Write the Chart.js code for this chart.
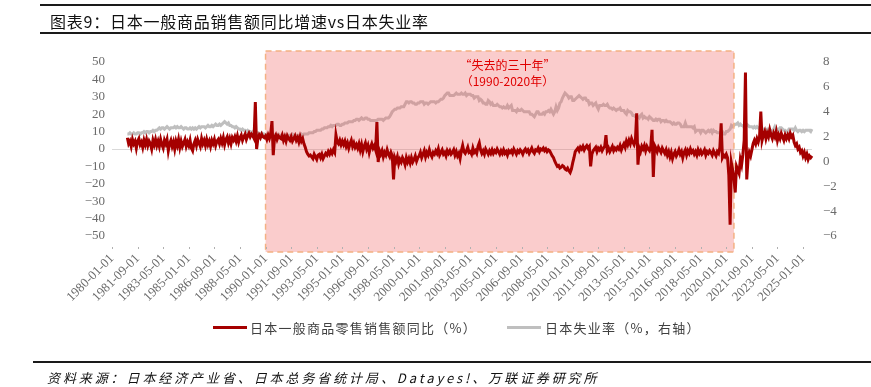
<!DOCTYPE html>
<html>
<head>
<meta charset="utf-8">
<script src="https://cdn.jsdelivr.net/npm/chart.js@4.4.1/dist/chart.umd.min.js"></script>
<style>
  html, body { margin:0; padding:0; background:#fff; }
  #wrap { position:relative; width:871px; height:387px; overflow:hidden; }
  canvas { position:absolute; left:0; top:0; }
  .rule { position:absolute; background:#1a1a1a; }
  #title { position:absolute; left:50px; top:9px; font:16px "Noto Sans CJK SC", sans-serif; color:#111; white-space:nowrap; letter-spacing:0.75px; }
  .lg { position:absolute; top:318px; font:13px "Noto Sans CJK SC", sans-serif; color:#404040; white-space:nowrap; letter-spacing:1.25px; }
  .lgline { position:absolute; top:326px; height:3px; width:34px; }
  #src { position:absolute; left:47px; top:368px; font:italic 13px "Noto Sans CJK SC", sans-serif; color:#111; white-space:nowrap; letter-spacing:2.9px; }
</style>
</head>
<body>
<div id="wrap">
  <canvas id="c" width="871" height="387"></canvas>
  <div class="rule" style="left:40px; top:4px; width:831px; height:2px;"></div>
  <div id="title">图表9：日本一般商品销售额同比增速vs日本失业率</div>
  <div class="rule" style="left:40px; top:32px; width:831px; height:2px;"></div>
  <div class="lgline" style="left:213px; background:#A50000;"></div>
  <div class="lg" style="left:250px;">日本一般商品零售销售额同比（%）</div>
  <div class="lgline" style="left:507px; background:#BFBFBF;"></div>
  <div class="lg" style="left:545px;">日本失业率（%，右轴）</div>
  <div class="rule" style="left:33px; top:361px; width:838px; height:2px;"></div>
  <div id="src">资料来源：日本经济产业省、日本总务省统计局、Datayes!、万联证券研究所</div>
</div>
<script>
// ---- categories: monthly, 1980-01 .. 2025-08 ----
const startYear = 1980;
const monthCount = 548;
const categories = [];
for (let i = 0; i < monthCount; i++) {
  const y = startYear + Math.floor(i / 12), m = (i % 12) + 1;
  categories.push(y + '-' + String(m).padStart(2, '0') + '-01');
}

// ---- tick labels shown on the x axis ----
const xTickLabels = ['1980-01-01','1981-09-01','1983-05-01','1985-01-01','1986-09-01','1988-05-01',
  '1990-01-01','1991-09-01','1993-05-01','1995-01-01','1996-09-01','1998-05-01','2000-01-01',
  '2001-09-01','2003-05-01','2005-01-01','2006-09-01','2008-05-01','2010-01-01','2011-09-01',
  '2013-05-01','2015-01-01','2016-09-01','2018-05-01','2020-01-01','2021-09-01','2023-05-01','2025-01-01'];

// ---- series 1: 日本一般商品零售销售额同比 (%), 1980 has no data ----
const retailYoY1980 = [null,null,null,null,null,null,null,null,null,null,null,null];
const retailYoY = [
  // 1981
  6.5,3.0,4.5,1.5,5.5,3.0,4.5,0.5,4.5,6.0,2.5,4.0,
  // 1982
  1.0,5.0,2.5,5.5,2.0,4.5,3.0,0.0,5.0,2.5,5.5,2.0,
  // 1983
  4.5,1.5,5.5,2.5,0.5,5.0,3.0,5.5,-1.0,3.0,5.0,1.5,
  // 1984
  4.0,0.0,4.5,2.0,5.5,1.0,4.5,1.5,3.5,5.5,1.5,4.0,
  // 1985
  2.0,5.0,0.5,-1.0,3.0,5.0,2.0,5.5,3.5,1.5,6.0,3.0,
  // 1986
  5.0,2.0,5.5,2.5,4.5,1.5,5.0,3.0,5.5,2.0,4.5,5.5,
  // 1987
  3.0,6.0,3.5,6.5,2.5,5.5,7.0,3.5,6.0,3.0,6.5,5.0,
  // 1988
  7.0,4.5,7.5,4.0,6.5,8.0,5.0,7.0,8.5,5.5,7.5,9.0,
  // 1989
  7.0,8.5,7.5,6.0,27.0,0.0,6.0,8.0,6.5,8.5,7.0,6.5,
  // 1990
  7.5,5.5,8.0,6.0,8.5,16.0,-3.5,6.5,8.0,5.5,7.5,6.5,
  // 1991
  6.0,8.0,5.0,7.0,4.5,7.5,6.0,5.0,7.0,4.5,6.0,7.5,
  // 1992
  5.0,6.5,4.0,7.0,4.5,6.0,3.0,1.0,-1.5,-3.0,-4.0,-3.5,
  // 1993
  -4.5,-5.5,-3.0,-4.5,-6.0,-3.5,-3.0,-5.0,-3.0,-5.5,-4.0,-2.5,
  // 1994
  -3.5,-1.5,-3.0,-1.0,-2.5,-0.5,-2.0,8.0,4.0,3.0,5.0,2.5,
  // 1995
  4.5,2.5,4.5,1.5,3.5,0.5,3.0,5.0,1.5,3.5,1.0,2.5,
  // 1996
  0.5,3.0,-0.5,2.5,-1.5,1.5,3.5,0.0,2.0,-2.0,1.0,3.0,
  // 1997
  0.5,2.0,-0.5,15.5,-7.5,-1.0,-3.0,-1.0,-4.5,-2.0,-3.5,-0.5,
  // 1998
  -3.0,-4.5,-2.0,-4.0,-17.5,-5.0,-7.0,-4.5,-8.5,-6.0,-7.5,-5.0,
  // 1999
  -6.5,-9.0,-5.0,-7.5,-5.5,-8.0,-5.0,-7.5,-6.0,-4.0,-7.0,-5.0,
  // 2000
  -4.0,-2.0,-5.0,-3.0,-1.0,-4.5,-2.0,-3.5,-0.5,-3.0,-4.5,-2.0,
  // 2001
  -3.0,-1.0,-2.5,0.0,-3.5,-2.0,-0.5,-3.0,-2.0,-4.0,-1.0,-2.5,
  // 2002
  -1.0,-3.0,-2.0,-0.5,-3.5,-1.5,-4.0,-2.5,-5.5,-1.0,2.0,-1.5,
  // 2003
  -2.5,-1.0,1.0,-2.0,-1.5,-3.0,0.5,-2.0,-1.0,-2.5,1.5,3.5,
  // 2004
  -0.5,-2.5,-1.0,-3.0,0.0,-1.5,-3.0,-1.0,-2.5,-0.5,-2.5,-1.0,
  // 2005
  -2.0,0.0,-1.5,-3.0,-1.0,-2.5,-0.5,-2.5,-1.5,-3.5,-1.0,-2.0,
  // 2006
  -1.0,-2.5,0.0,-1.5,-3.0,-1.0,-2.0,-0.5,-1.5,-3.0,-1.0,0.0,
  // 2007
  -1.5,-0.5,-2.5,-1.0,0.5,-1.5,-2.5,-0.5,-1.0,0.5,-1.5,0.0,
  // 2008
  -0.5,0.5,-1.0,0.0,-1.5,-0.5,-1.0,-2.5,-4.0,-5.0,-7.0,-8.5,
  // 2009
  -10.0,-9.5,-11.0,-10.5,-9.5,-10.0,-11.5,-12.0,-11.0,-12.5,-13.5,-11.5,
  // 2010
  -8.0,-5.0,-1.5,-0.5,0.5,-1.0,1.0,0.0,1.5,-0.5,1.0,2.0,
  // 2011
  0.5,1.5,-10.0,-3.0,-1.0,0.0,1.0,-1.5,0.5,-0.5,1.0,-1.0,
  // 2012
  0.5,1.5,8.0,-1.0,0.5,-1.5,0.0,1.5,-1.0,0.5,-0.5,1.0,
  // 2013
  0.0,2.0,-0.5,1.5,3.0,1.0,4.5,2.5,5.0,3.0,6.0,4.0,
  // 2014
  2.5,5.0,20.5,-9.0,0.5,-1.5,1.5,0.0,2.0,-1.0,1.5,0.0,
  // 2015
  -1.0,1.5,11.0,-16.0,2.0,0.5,-1.5,1.0,-0.5,-2.0,0.5,-1.0,
  // 2016
  -2.5,-0.5,-3.5,-1.5,-4.5,-2.0,-5.5,-3.0,-1.5,-4.0,-2.5,-0.5,
  // 2017
  -3.0,-1.5,-5.0,-2.0,-0.5,-3.5,-1.0,-2.5,0.0,-2.0,-1.0,-3.0,
  // 2018
  -1.5,-3.5,-0.5,-2.5,-1.0,-3.0,-2.0,-0.5,-3.5,-1.5,-2.5,-1.0,
  // 2019
  -2.0,-3.5,-1.0,-2.5,-4.0,-1.5,-2.5,1.0,14.8,-5.0,-3.5,-4.5,
  // 2020
  -3.0,-5.0,-15.0,-43.5,-8.0,-12.0,-17.0,-25.0,-10.0,-12.0,-14.0,-6.0,
  // 2021
  -9.0,-3.0,5.0,44.0,-17.5,-6.0,-2.0,-4.0,-0.5,3.0,5.0,3.0,
  // 2022
  6.0,4.0,7.0,21.5,5.0,8.0,10.0,6.0,9.0,7.0,11.0,8.0,
  // 2023
  6.0,9.0,7.0,10.0,5.0,8.0,6.0,9.0,7.0,5.0,8.0,6.0,
  // 2024
  8.0,6.0,9.0,7.0,8.0,4.0,2.0,3.0,0.0,1.0,-2.0,-1.0,
  // 2025
  -4.0,-2.0,-5.0,-3.0,-6.0,-4.0,-5.0,-4.0
];

// ---- series 2: 日本失业率 (%, right axis) ----
const unemployment1980 = [null,null,null,null,null,null,null,null,null,null,null,null];
const unemployment = [
  2.2,2.2,2.3,2.2,2.2,2.3,2.2,2.2,2.3,2.3,2.2,2.3, // 1981
  2.3,2.4,2.3,2.4,2.4,2.3,2.4,2.4,2.5,2.4,2.5,2.5, // 1982
  2.6,2.7,2.6,2.7,2.7,2.6,2.7,2.8,2.7,2.6,2.7,2.7, // 1983
  2.7,2.8,2.7,2.8,2.7,2.7,2.8,2.7,2.6,2.7,2.7,2.6, // 1984
  2.6,2.7,2.6,2.7,2.6,2.7,2.6,2.7,2.8,2.7,2.8,2.8, // 1985
  2.8,2.7,2.8,2.9,2.8,2.8,2.9,2.8,2.9,3.0,2.9,2.9, // 1986
  3.0,2.9,3.0,3.1,3.2,3.1,3.0,3.1,2.9,2.9,2.8,2.8, // 1987
  2.7,2.8,2.7,2.6,2.6,2.5,2.6,2.5,2.5,2.4,2.5,2.4, // 1988
  2.4,2.3,2.4,2.3,2.2,2.3,2.3,2.2,2.2,2.3,2.2,2.2, // 1989
  2.1,2.2,2.1,2.2,2.1,2.1,2.2,2.1,2.1,2.1,2.2,2.1, // 1990
  2.1,2.1,2.0,2.1,2.1,2.1,2.1,2.1,2.1,2.2,2.1,2.1, // 1991
  2.1,2.1,2.1,2.1,2.2,2.1,2.2,2.2,2.2,2.2,2.3,2.3, // 1992
  2.3,2.3,2.4,2.4,2.5,2.5,2.5,2.5,2.6,2.6,2.7,2.7, // 1993
  2.7,2.8,2.8,2.9,2.8,2.9,2.9,2.9,3.0,3.0,2.9,2.9, // 1994
  3.0,3.0,3.1,3.1,3.1,3.2,3.2,3.2,3.2,3.3,3.3,3.4, // 1995
  3.4,3.3,3.4,3.5,3.4,3.4,3.5,3.5,3.4,3.4,3.3,3.3, // 1996
  3.3,3.3,3.3,3.3,3.4,3.4,3.4,3.4,3.3,3.4,3.5,3.5, // 1997
  3.5,3.6,3.8,4.0,4.1,4.2,4.2,4.3,4.3,4.3,4.4,4.4, // 1998
  4.4,4.6,4.8,4.8,4.7,4.8,4.8,4.7,4.7,4.6,4.6,4.7, // 1999
  4.7,4.8,4.8,4.8,4.6,4.7,4.7,4.6,4.7,4.8,4.8,4.8, // 2000
  4.8,4.7,4.8,4.8,4.9,5.0,5.0,5.1,5.3,5.4,5.5,5.5, // 2001
  5.3,5.3,5.3,5.3,5.4,5.5,5.4,5.4,5.4,5.5,5.4,5.4, // 2002
  5.5,5.3,5.4,5.4,5.4,5.3,5.3,5.1,5.2,5.2,5.2,4.9, // 2003
  5.0,4.9,4.7,4.7,4.6,4.6,4.9,4.8,4.6,4.7,4.5,4.5, // 2004
  4.5,4.6,4.5,4.4,4.4,4.3,4.4,4.3,4.3,4.5,4.3,4.4, // 2005
  4.5,4.1,4.1,4.1,4.0,4.2,4.1,4.1,4.2,4.1,4.0,4.0, // 2006
  4.0,4.0,4.0,3.8,3.8,3.7,3.6,3.8,4.0,4.0,3.8,3.8, // 2007
  3.8,3.9,3.8,4.0,4.0,4.1,4.0,4.2,4.0,3.8,4.0,4.4, // 2008
  4.1,4.3,4.7,4.8,5.1,5.3,5.5,5.4,5.3,5.1,5.2,5.2, // 2009
  4.9,4.9,5.0,5.1,5.2,5.3,5.2,5.1,5.0,5.1,5.1,4.9, // 2010
  4.9,4.6,4.7,4.7,4.5,4.6,4.7,4.4,4.2,4.5,4.5,4.5, // 2011
  4.6,4.5,4.5,4.6,4.4,4.3,4.3,4.2,4.3,4.2,4.1,4.2, // 2012
  4.2,4.3,4.1,4.1,4.1,3.9,3.8,4.1,4.0,4.0,3.9,3.7, // 2013
  3.7,3.6,3.6,3.6,3.5,3.7,3.8,3.5,3.6,3.5,3.5,3.4, // 2014
  3.6,3.5,3.4,3.3,3.3,3.4,3.3,3.4,3.4,3.2,3.3,3.3, // 2015
  3.2,3.3,3.2,3.2,3.2,3.1,3.0,3.1,3.0,3.0,3.1,3.1, // 2016
  3.0,2.8,2.8,2.8,3.1,2.8,2.8,2.8,2.8,2.8,2.7,2.8, // 2017
  2.4,2.5,2.5,2.5,2.3,2.5,2.5,2.4,2.3,2.4,2.5,2.4, // 2018
  2.5,2.3,2.5,2.4,2.4,2.3,2.3,2.3,2.4,2.4,2.2,2.2, // 2019
  2.4,2.4,2.5,2.6,2.9,2.8,2.9,3.0,3.0,3.1,2.9,3.0, // 2020
  2.9,2.9,2.7,2.8,3.0,2.9,2.8,2.8,2.8,2.7,2.8,2.7, // 2021
  2.8,2.7,2.6,2.5,2.6,2.6,2.6,2.5,2.6,2.6,2.5,2.5, // 2022
  2.4,2.6,2.8,2.6,2.6,2.5,2.7,2.7,2.6,2.5,2.5,2.4, // 2023
  2.4,2.6,2.6,2.6,2.6,2.5,2.7,2.5,2.4,2.5,2.5,2.4, // 2024
  2.5,2.4,2.5,2.5,2.5,2.5,2.4,2.6                  // 2025
];

// ---- shaded period: "失去的三十年" ----
const lostDecadesStart = '1990-01-01';
const lostDecadesEnd = '2020-07-01';
const annotationLines = ['“失去的三十年”', '（1990-2020年）'];

const tickFont = { family: '"Liberation Serif", "Times New Roman", serif', size: 13 };
const tickColor = '#6b6b6b';
const minusFmt = v => (v < 0 ? '\u2212' + Math.abs(v) : String(v));

const shadePlugin = {
  id: 'shade',
  afterDatasetDraw(chart, args) {
    if (args.index !== 1) return;
    const x = chart.scales.x, y = chart.scales.y, ctx = chart.ctx;
    const x0 = x.getPixelForValue(categories.indexOf(lostDecadesStart));
    const x1 = x.getPixelForValue(categories.indexOf(lostDecadesEnd));
    const y0 = y.getPixelForValue(56.3), y1 = y.getPixelForValue(-59.2);
    ctx.save();
    ctx.fillStyle = 'rgba(240,100,100,0.33)';
    ctx.fillRect(x0, y0, x1 - x0, y1 - y0);
    ctx.setLineDash([6, 4]);
    ctx.strokeStyle = '#F4B183';
    ctx.lineWidth = 1.5;
    ctx.strokeRect(x0, y0, x1 - x0, y1 - y0);
    ctx.setLineDash([]);
    ctx.fillStyle = '#E00000';
    ctx.font = '12px "Noto Sans CJK SC", sans-serif';
    ctx.textAlign = 'center';
    ctx.textBaseline = 'middle';
    const cx = x.getPixelForValue(309);
    ctx.fillText(annotationLines[0], cx, y.getPixelForValue(48.3));
    ctx.fillText(annotationLines[1], cx, y.getPixelForValue(38.6));
    ctx.restore();
  },
  afterDraw(chart) {
    const x = chart.scales.x, ctx = chart.ctx;
    ctx.save();
    ctx.fillStyle = '#b0b0b0';
    x.ticks.forEach((t, i) => {
      const px = Math.round(x.getPixelForTick(i));
      ctx.fillRect(px, 247, 1, 2);
    });
    ctx.restore();
  }
};

new Chart(document.getElementById('c'), {
  type: 'line',
  data: {
    labels: categories,
    datasets: [
      { label: '日本一般商品零售销售额同比（%）', data: retailYoY1980.concat(retailYoY), yAxisID: 'y',
        borderColor: '#A50000', backgroundColor: '#A50000', borderWidth: 3, pointRadius: 0, tension: 0, order: 0 },
      { label: '日本失业率（%，右轴）', data: unemployment1980.concat(unemployment), yAxisID: 'y1',
        borderColor: '#BFBFBF', backgroundColor: '#BFBFBF', borderWidth: 3, pointRadius: 0, tension: 0, order: 1 }
    ]
  },
  options: {
    responsive: false,
    animation: false,
    layout: { padding: { top: 62, left: 0, right: 0, bottom: 0 } },
    plugins: { legend: { display: false }, tooltip: { enabled: false } },
    scales: {
      x: {
        type: 'category',
        grid: { display: false, drawTicks: false },
        border: { display: false },
        ticks: { autoSkip: false, minRotation: 45, maxRotation: 45, font: tickFont, color: tickColor, padding: 15 },
        afterBuildTicks: s => { s.ticks = s.ticks.filter(t => xTickLabels.includes(categories[t.value])); },
        afterFit: s => { s.height = 151; }
      },
      y: {
        position: 'left', min: -50, max: 50,
        grid: { drawTicks: false, color: c => (c.tick && c.tick.value === 0 ? '#D9D9D9' : 'rgba(0,0,0,0)') },
        border: { display: false },
        ticks: { stepSize: 10, autoSkip: false, font: tickFont, color: tickColor, padding: 7, callback: minusFmt },
        afterFit: s => { s.width = 112; }
      },
      y1: {
        position: 'right', min: -6, max: 8,
        grid: { display: false, drawTicks: false },
        border: { display: false },
        ticks: { stepSize: 2, autoSkip: false, font: tickFont, color: tickColor, padding: 11, callback: minusFmt },
        afterFit: s => { s.width = 59; }
      }
    }
  },
  plugins: [shadePlugin]
});
</script>
</body>
</html>
